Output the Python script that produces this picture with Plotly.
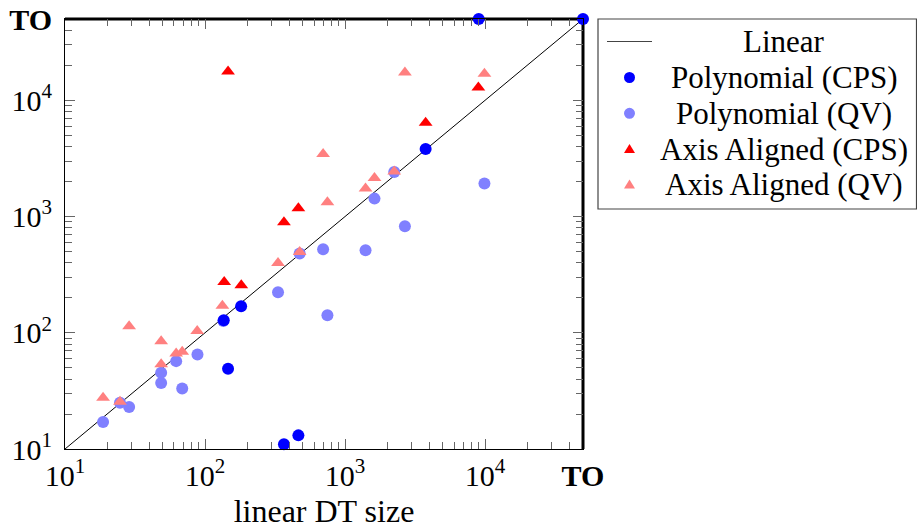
import plotly.graph_objects as go
import math

TO = 50000

# Polynomial (CPS)
poly_cps_x = [9000, 50000, 3760, 181, 136, 146, 366, 464]
poly_cps_y = [50000, 50000, 3800, 169, 128, 49, 11.0, 13.1]

# Polynomial (QV)
poly_qv_x = [18.7, 24.7, 28.7, 48.6, 48.6, 62.2, 68.7, 88.3, 135, 332, 474, 697, 748, 1400, 1622, 2244, 2674, 9890]
poly_qv_y = [17.1, 25.0, 23.0, 45.3, 36.9, 57, 33.2, 65, 126, 223, 480, 523, 141.6, 513, 1425, 2410, 824, 1919]

# Axis Aligned (CPS)
aa_cps_x = [146, 137, 181.5, 366, 464, 3760, 8950]
aa_cps_y = [17660, 273, 256, 891, 1175, 6410, 12880]

# Axis Aligned (QV)
aa_qv_x = [18.7, 24.7, 28.7, 48.6, 48.6, 62.2, 68.7, 87.9, 133, 332, 474, 697, 748, 1400, 1622, 2244, 2674, 9890]
aa_qv_y = [27.6, 25.5, 114, 84.7, 53.7, 66.4, 68.5, 103.7, 171, 399, 496, 3444, 1325, 1738, 2142, 2444, 17340, 16900]

linear_x = [10, TO]
linear_y = [10, TO]

tick_vals = [10, 100, 1000, 10000, TO]
tick_text = ["10<sup>1</sup>", "10<sup>2</sup>", "10<sup>3</sup>", "10<sup>4</sup>", "<b>TO</b>"]

legend_names = ["Linear", "Polynomial (CPS)", "Polynomial (QV)", "Axis Aligned (CPS)", "Axis Aligned (QV)"]
legend_colors = ["black", "#0000ff", "#8080ff", "#ff0000", "#ff8080"]
legend_kinds = ["line", "circle", "circle", "triangle", "triangle"]

FONT = "Liberation Serif"
FS_TICK = 30
FS_TEXT = 31

W, H = 917, 532
ML, MR, MT, MB = 65, 334, 19, 83
PW, PH = W - ML - MR, H - MT - MB


def px_x(px):
    return (px - ML) / PW


def px_y(py):
    return (H - MB - py) / PH


fig = go.Figure()
fig.add_trace(go.Scatter(x=linear_x, y=linear_y, mode="lines", name="Linear",
                         line=dict(color="black", width=1)))
fig.add_trace(go.Scatter(x=poly_qv_x, y=poly_qv_y, mode="markers", name="Polynomial (QV)",
                         marker=dict(symbol="circle", size=12, color="#8080ff"), cliponaxis=False))
fig.add_trace(go.Scatter(x=poly_cps_x, y=poly_cps_y, mode="markers", name="Polynomial (CPS)",
                         marker=dict(symbol="circle", size=12, color="#0000ff"), cliponaxis=False))
fig.add_trace(go.Scatter(x=aa_qv_x, y=aa_qv_y, mode="markers", name="Axis Aligned (QV)",
                         marker=dict(symbol="triangle-up", size=12, color="#ff8080"), cliponaxis=False))
fig.add_trace(go.Scatter(x=aa_cps_x, y=aa_cps_y, mode="markers", name="Axis Aligned (CPS)",
                         marker=dict(symbol="triangle-up", size=12, color="#ff0000"), cliponaxis=False))

axis_common = dict(
    type="log",
    range=[1, math.log10(TO)],
    tickmode="array",
    tickvals=tick_vals,
    ticktext=tick_text,
    ticks="inside",
    ticklen=10,
    tickcolor="#666666",
    tickwidth=1,
    showgrid=False,
    zeroline=False,
    showline=True,
    linecolor="black",
    linewidth=1,
    mirror="ticks",
    automargin=False,
    tickfont=dict(family=FONT, size=FS_TICK, color="black"),
    minor=dict(dtick="D1", ticks="inside", ticklen=7,
               tickcolor="#666666", tickwidth=1, showgrid=False),
)

fig.update_xaxes(**axis_common, ticklabelstandoff=0,
                 title=dict(text="linear DT size", font=dict(family=FONT, size=32, color="black"), standoff=8))
fig.update_yaxes(**axis_common, ticklabelstandoff=6)

# thick TO borders (top and right)
fig.add_shape(type="line", xref="paper", yref="paper", x0=0, x1=1, y0=1, y1=1,
              line=dict(color="black", width=3), layer="below")
fig.add_shape(type="line", xref="paper", yref="paper", x0=1, x1=1, y0=0, y1=1,
              line=dict(color="black", width=3), layer="below")

# legend box (drawn manually so the entries can be centred like the original)
fig.add_shape(type="rect", xref="paper", yref="paper",
              x0=px_x(598), x1=px_x(916.5), y0=px_y(209), y1=px_y(19),
              line=dict(color="#444444", width=1.2), fillcolor="white", layer="above")
row_y = [41.5, 77.5, 113.3, 149.0, 184.6]
sym_x = 629.5
text_x = 784
for name, color, kind, ry in zip(legend_names, legend_colors, legend_kinds, row_y):
    if kind == "line":
        fig.add_shape(type="line", xref="paper", yref="paper",
                      x0=px_x(607), x1=px_x(652), y0=px_y(ry), y1=px_y(ry),
                      line=dict(color="#444444", width=1.2))
    elif kind == "circle":
        fig.add_shape(type="circle", xref="paper", yref="paper",
                      xsizemode="pixel", ysizemode="pixel",
                      xanchor=px_x(sym_x), yanchor=px_y(ry),
                      x0=-5.5, x1=5.5, y0=-5.5, y1=5.5,
                      fillcolor=color, line=dict(width=0))
    else:
        fig.add_shape(type="path", xref="paper", yref="paper",
                      xsizemode="pixel", ysizemode="pixel",
                      xanchor=px_x(sym_x), yanchor=px_y(ry),
                      path="M -5.5 -4 L 5.5 -4 L 0 5 Z",
                      fillcolor=color, line=dict(width=0))
    fig.add_annotation(x=px_x(text_x), y=px_y(ry), xref="paper", yref="paper",
                       text=name, showarrow=False, xanchor="center", yanchor="middle",
                       font=dict(family=FONT, size=FS_TEXT, color="black"))

fig.update_layout(
    width=W, height=H,
    margin=dict(l=ML, r=MR, t=MT, b=MB, autoexpand=False),
    paper_bgcolor="white", plot_bgcolor="white",
    font=dict(family=FONT, size=FS_TEXT, color="black"),
    showlegend=False,
)

fig.write_html("out.html", config={"displayModeBar": False},
               post_script="document.body.style.margin='0';")
